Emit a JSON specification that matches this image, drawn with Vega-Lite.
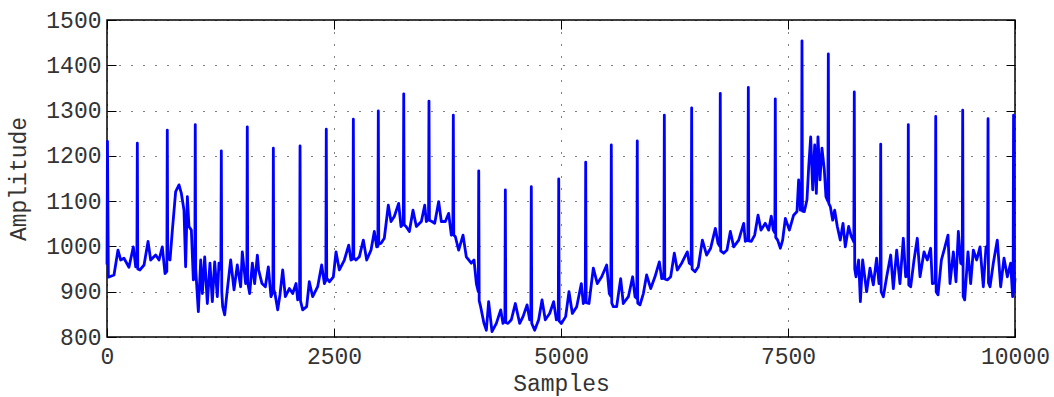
{
  "$schema": "https://vega.github.io/schema/vega-lite/v6.json",
  "width": 908,
  "height": 317,
  "autosize": {"type": "none"},
  "padding": {"left": 107, "top": 20, "right": 39, "bottom": 60},
  "background": "white",
  "config": {
    "view": {"stroke": "#000000", "strokeWidth": 1.5},
    "font": "Liberation Mono",
    "axis": {
      "labelFont": "Liberation Mono",
      "labelFontSize": 23,
      "labelColor": "#333333",
      "labelFlush": false,
      "titleFont": "Liberation Mono",
      "titleFontSize": 23,
      "titleFontWeight": "normal",
      "titleColor": "#333333",
      "domain": false,
      "tickColor": "#000000",
      "tickSize": -9,
      "tickWidth": 1,
      "gridColor": "#000000",
      "gridDash": [1, 11],
      "gridWidth": 1,
      "gridOpacity": 1,
      "format": "d"
    }
  },
  "data": {
    "values": [
      {"s": 0, "a": 960}, {"s": 5, "a": 1232}, {"s": 15, "a": 932}, {"s": 77, "a": 937}, {"s": 121, "a": 992},
      {"s": 151, "a": 970}, {"s": 187, "a": 974}, {"s": 242, "a": 954}, {"s": 290, "a": 999}, {"s": 316, "a": 955},
      {"s": 329, "a": 955}, {"s": 334, "a": 1228}, {"s": 339, "a": 950}, {"s": 363, "a": 948}, {"s": 408, "a": 959},
      {"s": 452, "a": 1011}, {"s": 481, "a": 970}, {"s": 536, "a": 981}, {"s": 573, "a": 970}, {"s": 609, "a": 999},
      {"s": 639, "a": 940}, {"s": 659, "a": 945}, {"s": 664, "a": 1257}, {"s": 669, "a": 975}, {"s": 694, "a": 970},
      {"s": 720, "a": 1036}, {"s": 756, "a": 1121}, {"s": 793, "a": 1136}, {"s": 819, "a": 1117}, {"s": 848, "a": 1080},
      {"s": 866, "a": 955}, {"s": 885, "a": 1110}, {"s": 903, "a": 1044}, {"s": 929, "a": 1036}, {"s": 951, "a": 926},
      {"s": 967, "a": 930}, {"s": 972, "a": 1269}, {"s": 977, "a": 950}, {"s": 1006, "a": 856}, {"s": 1032, "a": 970},
      {"s": 1050, "a": 896}, {"s": 1076, "a": 977}, {"s": 1105, "a": 874}, {"s": 1134, "a": 963}, {"s": 1160, "a": 878},
      {"s": 1186, "a": 966}, {"s": 1215, "a": 889}, {"s": 1233, "a": 963}, {"s": 1254, "a": 950}, {"s": 1259, "a": 1211},
      {"s": 1264, "a": 900}, {"s": 1274, "a": 867}, {"s": 1296, "a": 849}, {"s": 1325, "a": 904}, {"s": 1362, "a": 970},
      {"s": 1399, "a": 904}, {"s": 1435, "a": 959}, {"s": 1472, "a": 911}, {"s": 1490, "a": 988}, {"s": 1527, "a": 918},
      {"s": 1540, "a": 930}, {"s": 1545, "a": 1264}, {"s": 1550, "a": 920}, {"s": 1571, "a": 896}, {"s": 1601, "a": 963},
      {"s": 1626, "a": 918}, {"s": 1656, "a": 981}, {"s": 1670, "a": 948}, {"s": 1707, "a": 918}, {"s": 1744, "a": 911},
      {"s": 1777, "a": 955}, {"s": 1806, "a": 889}, {"s": 1827, "a": 900}, {"s": 1832, "a": 1217}, {"s": 1837, "a": 905},
      {"s": 1850, "a": 896}, {"s": 1880, "a": 860}, {"s": 1905, "a": 893}, {"s": 1935, "a": 948}, {"s": 1964, "a": 889},
      {"s": 2008, "a": 907}, {"s": 2045, "a": 896}, {"s": 2082, "a": 918}, {"s": 2100, "a": 882}, {"s": 2121, "a": 895},
      {"s": 2126, "a": 1222}, {"s": 2131, "a": 880}, {"s": 2155, "a": 860}, {"s": 2199, "a": 867}, {"s": 2228, "a": 922},
      {"s": 2265, "a": 889}, {"s": 2320, "a": 911}, {"s": 2364, "a": 959}, {"s": 2394, "a": 918}, {"s": 2410, "a": 925},
      {"s": 2415, "a": 1259}, {"s": 2420, "a": 930}, {"s": 2449, "a": 922}, {"s": 2493, "a": 933}, {"s": 2522, "a": 988},
      {"s": 2559, "a": 948}, {"s": 2614, "a": 970}, {"s": 2662, "a": 1003}, {"s": 2687, "a": 970}, {"s": 2708, "a": 972},
      {"s": 2713, "a": 1281}, {"s": 2718, "a": 975}, {"s": 2742, "a": 970}, {"s": 2779, "a": 977}, {"s": 2823, "a": 1014},
      {"s": 2860, "a": 970}, {"s": 2908, "a": 992}, {"s": 2944, "a": 1033}, {"s": 2970, "a": 999}, {"s": 2983, "a": 1000},
      {"s": 2988, "a": 1299}, {"s": 2993, "a": 1005}, {"s": 3018, "a": 1007}, {"s": 3054, "a": 1018}, {"s": 3098, "a": 1091},
      {"s": 3128, "a": 1055}, {"s": 3164, "a": 1066}, {"s": 3212, "a": 1095}, {"s": 3238, "a": 1044}, {"s": 3263, "a": 1050},
      {"s": 3268, "a": 1337}, {"s": 3273, "a": 1048}, {"s": 3293, "a": 1044}, {"s": 3330, "a": 1033}, {"s": 3370, "a": 1080},
      {"s": 3407, "a": 1044}, {"s": 3462, "a": 1055}, {"s": 3499, "a": 1091}, {"s": 3517, "a": 1055}, {"s": 3541, "a": 1060},
      {"s": 3546, "a": 1321}, {"s": 3551, "a": 1058}, {"s": 3579, "a": 1055}, {"s": 3609, "a": 1051}, {"s": 3653, "a": 1099},
      {"s": 3682, "a": 1055}, {"s": 3726, "a": 1055}, {"s": 3763, "a": 1073}, {"s": 3792, "a": 1025}, {"s": 3809, "a": 1030},
      {"s": 3814, "a": 1290}, {"s": 3819, "a": 1025}, {"s": 3836, "a": 1022}, {"s": 3873, "a": 992}, {"s": 3921, "a": 1025},
      {"s": 3957, "a": 977}, {"s": 4012, "a": 963}, {"s": 4042, "a": 970}, {"s": 4068, "a": 918}, {"s": 4089, "a": 900},
      {"s": 4094, "a": 1167}, {"s": 4099, "a": 880}, {"s": 4115, "a": 867}, {"s": 4152, "a": 830}, {"s": 4178, "a": 815},
      {"s": 4203, "a": 878}, {"s": 4240, "a": 812}, {"s": 4288, "a": 830}, {"s": 4336, "a": 860}, {"s": 4361, "a": 830},
      {"s": 4382, "a": 835}, {"s": 4387, "a": 1125}, {"s": 4392, "a": 832}, {"s": 4416, "a": 830}, {"s": 4453, "a": 838},
      {"s": 4497, "a": 874}, {"s": 4545, "a": 830}, {"s": 4582, "a": 845}, {"s": 4626, "a": 871}, {"s": 4655, "a": 838},
      {"s": 4668, "a": 840}, {"s": 4673, "a": 1132}, {"s": 4678, "a": 830}, {"s": 4710, "a": 815}, {"s": 4754, "a": 838},
      {"s": 4791, "a": 882}, {"s": 4827, "a": 838}, {"s": 4875, "a": 852}, {"s": 4919, "a": 878}, {"s": 4949, "a": 838},
      {"s": 4970, "a": 840}, {"s": 4975, "a": 1149}, {"s": 4980, "a": 835}, {"s": 5004, "a": 830}, {"s": 5051, "a": 845},
      {"s": 5088, "a": 900}, {"s": 5125, "a": 852}, {"s": 5173, "a": 867}, {"s": 5224, "a": 918}, {"s": 5246, "a": 874},
      {"s": 5267, "a": 880}, {"s": 5272, "a": 1186}, {"s": 5277, "a": 876}, {"s": 5308, "a": 874}, {"s": 5356, "a": 952},
      {"s": 5400, "a": 918}, {"s": 5448, "a": 933}, {"s": 5503, "a": 959}, {"s": 5532, "a": 896}, {"s": 5549, "a": 890},
      {"s": 5554, "a": 1224}, {"s": 5559, "a": 875}, {"s": 5576, "a": 867}, {"s": 5613, "a": 867}, {"s": 5657, "a": 929},
      {"s": 5686, "a": 874}, {"s": 5742, "a": 889}, {"s": 5789, "a": 933}, {"s": 5815, "a": 889}, {"s": 5835, "a": 885},
      {"s": 5840, "a": 1233}, {"s": 5845, "a": 875}, {"s": 5870, "a": 871}, {"s": 5907, "a": 896}, {"s": 5943, "a": 937},
      {"s": 5988, "a": 907}, {"s": 6035, "a": 933}, {"s": 6083, "a": 966}, {"s": 6109, "a": 929}, {"s": 6133, "a": 930},
      {"s": 6138, "a": 1290}, {"s": 6143, "a": 928}, {"s": 6171, "a": 926}, {"s": 6208, "a": 933}, {"s": 6248, "a": 985},
      {"s": 6281, "a": 948}, {"s": 6329, "a": 963}, {"s": 6391, "a": 988}, {"s": 6413, "a": 963}, {"s": 6434, "a": 960},
      {"s": 6439, "a": 1306}, {"s": 6444, "a": 950}, {"s": 6476, "a": 944}, {"s": 6512, "a": 955}, {"s": 6557, "a": 1014},
      {"s": 6604, "a": 981}, {"s": 6648, "a": 996}, {"s": 6700, "a": 1040}, {"s": 6729, "a": 1007}, {"s": 6749, "a": 1000},
      {"s": 6754, "a": 1338}, {"s": 6759, "a": 990}, {"s": 6791, "a": 985}, {"s": 6828, "a": 992}, {"s": 6865, "a": 1033},
      {"s": 6902, "a": 999}, {"s": 6957, "a": 1014}, {"s": 7012, "a": 1051}, {"s": 7030, "a": 1011}, {"s": 7058, "a": 1015},
      {"s": 7063, "a": 1351}, {"s": 7068, "a": 1012}, {"s": 7096, "a": 1011}, {"s": 7133, "a": 1025}, {"s": 7170, "a": 1069},
      {"s": 7203, "a": 1036}, {"s": 7250, "a": 1051}, {"s": 7287, "a": 1036}, {"s": 7316, "a": 1067}, {"s": 7338, "a": 1036},
      {"s": 7355, "a": 1030}, {"s": 7360, "a": 1326}, {"s": 7365, "a": 1020}, {"s": 7386, "a": 1014}, {"s": 7416, "a": 996},
      {"s": 7441, "a": 1014}, {"s": 7471, "a": 1062}, {"s": 7515, "a": 1036}, {"s": 7562, "a": 1069}, {"s": 7599, "a": 1077},
      {"s": 7617, "a": 1147}, {"s": 7636, "a": 1080}, {"s": 7649, "a": 1080}, {"s": 7654, "a": 1454}, {"s": 7659, "a": 1078},
      {"s": 7680, "a": 1077}, {"s": 7709, "a": 1103}, {"s": 7728, "a": 1176}, {"s": 7750, "a": 1242}, {"s": 7772, "a": 1125},
      {"s": 7794, "a": 1224}, {"s": 7812, "a": 1117}, {"s": 7830, "a": 1242}, {"s": 7852, "a": 1147}, {"s": 7874, "a": 1217},
      {"s": 7900, "a": 1169}, {"s": 7918, "a": 1110}, {"s": 7939, "a": 1100}, {"s": 7944, "a": 1425}, {"s": 7949, "a": 1095},
      {"s": 7966, "a": 1088}, {"s": 7992, "a": 1058}, {"s": 8014, "a": 1080}, {"s": 8043, "a": 1044}, {"s": 8076, "a": 1014},
      {"s": 8106, "a": 1051}, {"s": 8131, "a": 999}, {"s": 8168, "a": 1044}, {"s": 8197, "a": 1022}, {"s": 8225, "a": 1010},
      {"s": 8230, "a": 1341}, {"s": 8235, "a": 950}, {"s": 8249, "a": 933}, {"s": 8278, "a": 970}, {"s": 8297, "a": 878},
      {"s": 8322, "a": 970}, {"s": 8366, "a": 900}, {"s": 8403, "a": 952}, {"s": 8440, "a": 915}, {"s": 8476, "a": 974},
      {"s": 8502, "a": 918}, {"s": 8516, "a": 920}, {"s": 8521, "a": 1226}, {"s": 8526, "a": 900}, {"s": 8550, "a": 889},
      {"s": 8587, "a": 933}, {"s": 8631, "a": 981}, {"s": 8660, "a": 907}, {"s": 8697, "a": 992}, {"s": 8733, "a": 918},
      {"s": 8770, "a": 1018}, {"s": 8796, "a": 933}, {"s": 8820, "a": 935}, {"s": 8825, "a": 1269}, {"s": 8830, "a": 915},
      {"s": 8851, "a": 911}, {"s": 8888, "a": 970}, {"s": 8924, "a": 1018}, {"s": 8954, "a": 933}, {"s": 8998, "a": 988},
      {"s": 9034, "a": 970}, {"s": 9071, "a": 996}, {"s": 9090, "a": 918}, {"s": 9122, "a": 920}, {"s": 9127, "a": 1287},
      {"s": 9132, "a": 900}, {"s": 9152, "a": 893}, {"s": 9189, "a": 970}, {"s": 9225, "a": 996}, {"s": 9262, "a": 1025},
      {"s": 9284, "a": 918}, {"s": 9321, "a": 988}, {"s": 9350, "a": 922}, {"s": 9376, "a": 1033}, {"s": 9402, "a": 963},
      {"s": 9419, "a": 960}, {"s": 9424, "a": 1301}, {"s": 9429, "a": 890}, {"s": 9446, "a": 882}, {"s": 9482, "a": 988},
      {"s": 9512, "a": 918}, {"s": 9541, "a": 992}, {"s": 9578, "a": 970}, {"s": 9615, "a": 999}, {"s": 9651, "a": 911},
      {"s": 9681, "a": 999}, {"s": 9698, "a": 990}, {"s": 9703, "a": 1282}, {"s": 9708, "a": 920}, {"s": 9725, "a": 911},
      {"s": 9761, "a": 963}, {"s": 9805, "a": 1014}, {"s": 9842, "a": 911}, {"s": 9879, "a": 974}, {"s": 9916, "a": 933},
      {"s": 9952, "a": 963}, {"s": 9974, "a": 889}, {"s": 9979, "a": 895}, {"s": 9984, "a": 1290}, {"s": 9990, "a": 900},
      {"s": 10000, "a": 930}
    ]
  },
  "layer": [
    {
      "mark": {"type": "line", "color": "#0000ff", "strokeWidth": 2.8, "strokeJoin": "round", "clip": false},
      "encoding": {
        "x": {
          "field": "s", "type": "quantitative",
          "scale": {"domain": [0, 10000], "nice": false, "zero": false},
          "axis": {"orient": "bottom", "values": [0, 2500, 5000, 7500, 10000], "title": "Samples", "labelPadding": 17, "titleY": 53, "titleBaseline": "alphabetic"}
        },
        "y": {
          "field": "a", "type": "quantitative",
          "scale": {"domain": [800, 1500], "nice": false, "zero": false},
          "axis": {"orient": "left", "values": [800, 900, 1000, 1100, 1200, 1300, 1400, 1500], "title": "Amplitude", "labelPadding": 15, "titleX": -77}
        }
      }
    },
    {
      "mark": {"type": "point", "opacity": 0},
      "encoding": {
        "x": {
          "field": "s", "type": "quantitative",
          "axis": {"orient": "top", "values": [0, 2500, 5000, 7500, 10000], "labels": false, "title": null, "grid": false}
        },
        "y": {
          "field": "a", "type": "quantitative",
          "axis": {"orient": "right", "values": [800, 900, 1000, 1100, 1200, 1300, 1400, 1500], "labels": false, "title": null, "grid": false}
        }
      }
    }
  ],
  "resolve": {"axis": {"x": "independent", "y": "independent"}}
}
